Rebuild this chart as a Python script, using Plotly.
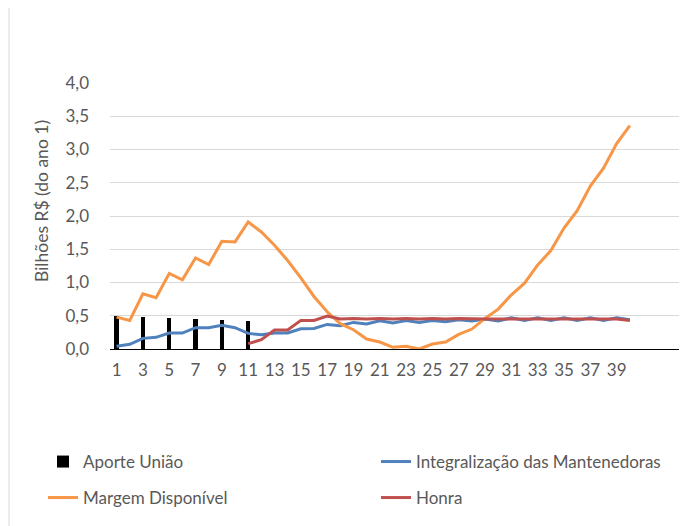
import plotly.graph_objects as go

anos = list(range(1, 41))

aporte_x = [1, 3, 5, 7, 9, 11]
aporte_uniao = [0.49, 0.48, 0.465, 0.45, 0.43, 0.415]

integralizacao = [0.04, 0.07, 0.16, 0.175, 0.24, 0.24, 0.32, 0.32, 0.355, 0.32,
                  0.235, 0.215, 0.24, 0.24, 0.305, 0.31, 0.37, 0.35, 0.40, 0.375,
                  0.425, 0.39, 0.43, 0.40, 0.43, 0.41, 0.44, 0.42, 0.45, 0.42,
                  0.47, 0.43, 0.47, 0.43, 0.47, 0.43, 0.47, 0.43, 0.47, 0.44]

margem = [0.48, 0.43, 0.83, 0.77, 1.135, 1.04, 1.37, 1.27, 1.62, 1.61,
          1.91, 1.76, 1.56, 1.33, 1.07, 0.79, 0.56, 0.38, 0.29, 0.15,
          0.105, 0.025, 0.04, 0.0, 0.075, 0.105, 0.22, 0.30, 0.46, 0.60,
          0.815, 0.99, 1.265, 1.48, 1.82, 2.08, 2.45, 2.72, 3.09, 3.36]

honra_x = list(range(11, 41))
honra = [0.08, 0.14, 0.285, 0.285, 0.43, 0.43, 0.495, 0.45, 0.46, 0.45,
         0.46, 0.45, 0.46, 0.45, 0.46, 0.45, 0.46, 0.45, 0.45, 0.45,
         0.45, 0.44, 0.45, 0.44, 0.45, 0.44, 0.45, 0.44, 0.45, 0.43]

y_ticks = [0, 0.5, 1.0, 1.5, 2.0, 2.5, 3.0, 3.5, 4.0]
x_ticks = list(range(1, 40, 2))
y_title = "Bilhões R$ (do ano 1)"

FONT = "Lato"
GREY = "#595959"
FS = 17

# page body has an 8px margin: the figure starts at window (8, 8)
OFF = 8
W, H = 687 - OFF, 526 - OFF
L, R, T = 110 - OFF, 0, 83 - OFF
ph = 266
B = H - T - ph
pw = W - L - R


def px_x(p):
    return (p - OFF - L) / pw


def px_y(p):
    return (T + ph - (p - OFF)) / ph


fig = go.Figure()
fig.add_trace(go.Bar(x=aporte_x, y=aporte_uniao, width=0.32, marker_color="black",
                     marker_line_width=0, name="Aporte União", legend="legend"))
fig.add_trace(go.Scatter(x=anos, y=integralizacao, mode="lines",
                         line=dict(color="#4F81BD", width=3),
                         name="Integralização das Mantenedoras", legend="legend2"))
fig.add_trace(go.Scatter(x=anos, y=margem, mode="lines",
                         line=dict(color="#F79646", width=3),
                         name="Margem Disponível", legend="legend3"))
fig.add_trace(go.Scatter(x=honra_x, y=honra, mode="lines",
                         line=dict(color="#C0504D", width=3),
                         name="Honra", legend="legend4"))


def leg(xp, yp):
    return dict(x=px_x(xp), xanchor="left", y=px_y(yp), yanchor="middle",
                font=dict(family=FONT, size=FS, color=GREY),
                bgcolor="rgba(0,0,0,0)", borderwidth=0)


fig.update_layout(
    width=W, height=H,
    margin=dict(l=L, r=R, t=T, b=B, autoexpand=False),
    paper_bgcolor="white", plot_bgcolor="white",
    separators=",.",
    font=dict(family=FONT, size=FS, color=GREY),
    bargap=0,
    showlegend=True,
    legend=leg(43, 462),
    legend2=leg(376, 462),
    legend3=leg(43, 498),
    legend4=leg(376, 498),
    xaxis=dict(range=[0.5, 0.5 + pw / 13.16], tickmode="array", tickvals=x_ticks,
               ticktext=[str(v) for v in x_ticks], showgrid=False, zeroline=False,
               showline=True, linecolor="black", linewidth=1, ticks="",
               ticklabelstandoff=6, tickfont=dict(size=FS, color=GREY)),
    yaxis=dict(range=[0, 4.0], tickmode="array", tickvals=y_ticks, tickformat=".1f",
               showgrid=True, gridcolor="#D9D9D9", gridwidth=1, zeroline=False,
               showline=False, ticks="", ticklabelstandoff=20,
               tickfont=dict(size=FS, color=GREY)),
    annotations=[dict(text=y_title, textangle=-90, xref="paper", yref="paper",
                      x=px_x(41), y=px_y(201), xanchor="center", yanchor="middle",
                      showarrow=False, font=dict(family=FONT, size=17.5, color=GREY))],
    shapes=[dict(type="line", xref="paper", yref="paper", x0=px_x(9), x1=px_x(9),
                 y0=px_y(8), y1=px_y(526), line=dict(color="#D9D9D9", width=1))],
)

fig.write_html("out.html")
